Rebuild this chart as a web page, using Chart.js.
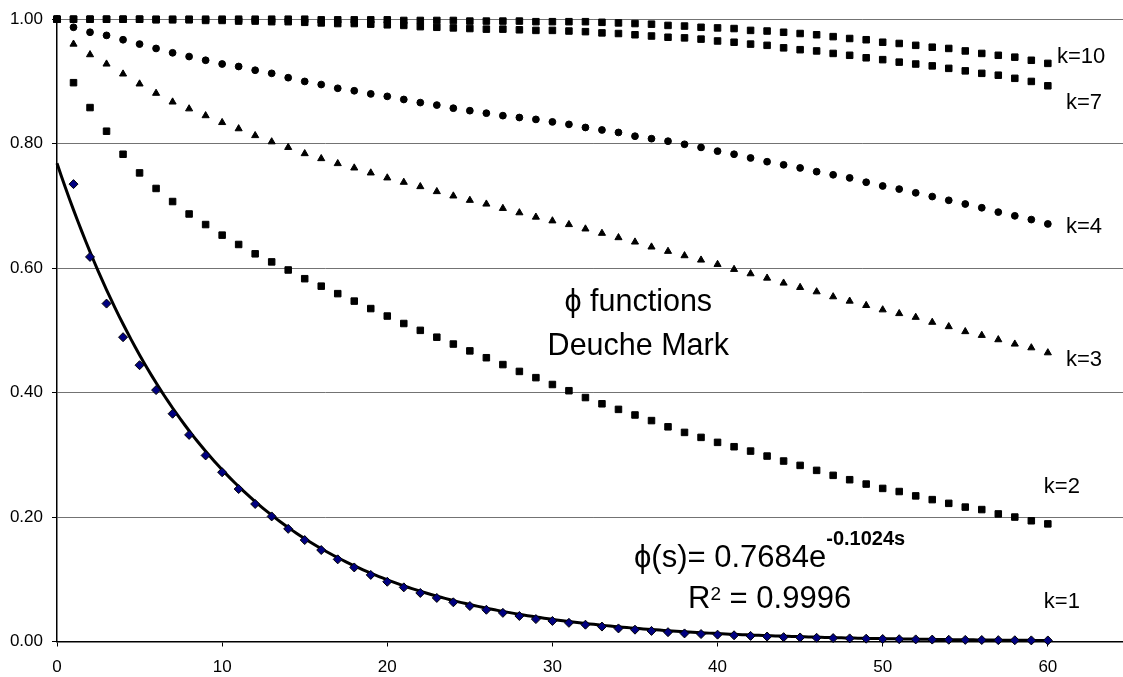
<!DOCTYPE html>
<html>
<head>
<meta charset="utf-8">
<title>phi functions - Deuche Mark</title>
<script src="https://cdn.jsdelivr.net/npm/chart.js@4.4.1/dist/chart.umd.min.js"></script>
<style>
  html, body { margin: 0; padding: 0; background: #fff; overflow: hidden; }
  #wrap { width: 1123px; height: 677px; overflow: hidden; position: relative; }
  canvas { display: block; }
</style>
</head>
<body>
<div id="wrap"><canvas id="chart" width="1136" height="677"></canvas></div>
<script>
// s (time steps)
const sValues = [0,1,2,3,4,5,6,7,8,9,10,11,12,13,14,15,16,17,18,19,20,
  21,22,23,24,25,26,27,28,29,30,31,32,33,34,35,36,37,38,39,40,
  41,42,43,44,45,46,47,48,49,50,51,52,53,54,55,56,57,58,59,60];

// phi_k(s) for each k
const phiK10 = [1.000,1.000,1.000,1.000,1.000,1.000,1.000,1.000,1.000,1.000,1.000,
  1.000,1.000,1.000,1.000,1.000,0.999,0.999,0.999,0.999,0.999,
  0.998,0.998,0.998,0.998,0.997,0.997,0.997,0.997,0.996,0.996,
  0.996,0.996,0.995,0.994,0.993,0.992,0.990,0.989,0.987,0.986,
  0.985,0.982,0.981,0.979,0.977,0.975,0.972,0.969,0.967,0.963,
  0.961,0.958,0.955,0.953,0.949,0.945,0.942,0.939,0.934,0.929];

const phiK7 = [1.000,1.000,1.000,1.000,1.000,1.000,0.999,0.999,0.999,0.998,0.998,
  0.997,0.997,0.996,0.996,0.995,0.994,0.993,0.993,0.992,0.991,
  0.990,0.988,0.987,0.986,0.985,0.984,0.984,0.983,0.982,0.982,
  0.981,0.980,0.978,0.977,0.975,0.973,0.971,0.970,0.968,0.965,
  0.963,0.960,0.958,0.954,0.951,0.949,0.945,0.942,0.938,0.935,
  0.931,0.928,0.925,0.921,0.917,0.913,0.910,0.905,0.900,0.893];

const phiK4 = [1.000,0.987,0.979,0.974,0.967,0.960,0.953,0.946,0.940,0.934,0.928,
  0.924,0.918,0.913,0.906,0.900,0.895,0.889,0.885,0.880,0.876,
  0.871,0.866,0.862,0.857,0.853,0.849,0.845,0.842,0.839,0.835,
  0.831,0.826,0.822,0.818,0.812,0.808,0.804,0.799,0.794,0.788,
  0.783,0.777,0.771,0.766,0.761,0.755,0.750,0.745,0.738,0.732,
  0.727,0.721,0.715,0.709,0.703,0.697,0.690,0.684,0.678,0.671];

const phiK3 = [1.000,0.960,0.943,0.928,0.912,0.896,0.881,0.867,0.856,0.845,0.834,
  0.824,0.813,0.803,0.794,0.784,0.776,0.768,0.761,0.753,0.745,
  0.738,0.731,0.723,0.716,0.709,0.703,0.696,0.689,0.682,0.676,
  0.670,0.663,0.656,0.649,0.642,0.634,0.627,0.620,0.613,0.606,
  0.598,0.591,0.584,0.576,0.569,0.562,0.554,0.547,0.540,0.533,
  0.527,0.521,0.513,0.506,0.498,0.492,0.485,0.478,0.472,0.464];

const phiK2 = [1.000,0.898,0.858,0.820,0.783,0.753,0.728,0.707,0.687,0.670,0.653,
  0.638,0.623,0.610,0.597,0.583,0.571,0.559,0.547,0.535,0.523,
  0.511,0.500,0.489,0.478,0.467,0.456,0.445,0.434,0.424,0.413,
  0.403,0.392,0.382,0.373,0.364,0.355,0.345,0.336,0.328,0.320,
  0.313,0.306,0.298,0.290,0.283,0.275,0.267,0.260,0.253,0.246,
  0.241,0.234,0.228,0.222,0.216,0.212,0.205,0.200,0.194,0.189];

const phiK1 = [null,0.735,0.618,0.543,0.489,0.444,0.404,0.366,0.332,0.299,0.272,
  0.245,0.221,0.201,0.181,0.163,0.147,0.132,0.119,0.107,0.096,
  0.087,0.078,0.070,0.063,0.057,0.051,0.046,0.041,0.036,0.033,
  0.030,0.027,0.024,0.021,0.019,0.017,0.015,0.013,0.012,0.011,
  0.010,0.009,0.008,0.007,0.0065,0.006,0.0055,0.005,0.0045,0.004,
  0.0037,0.0034,0.0031,0.0028,0.0026,0.0024,0.0022,0.0020,0.0018,0.0017];

// exponential fit of the k=1 curve: phi(s) = A * e^(B s)
const trendA = 0.7684;
const trendB = -0.1024;
const trendR2 = 0.9996;

// axis ticks
const xTickStep = 10;
const yTickStep = 0.2;

// text
const curveLabels = ['k=10', 'k=7', 'k=4', 'k=3', 'k=2', 'k=1'];
const titleLines = ['\u03D5 functions', 'Deuche Mark'];

// ---------------------------------------------------------------
const FONT = '"Liberation Sans", Arial, Helvetica, sans-serif';
Chart.defaults.font.family = FONT;
Chart.defaults.color = '#000';

const toPoints = arr => sValues.map((s, i) => ({ x: s, y: arr[i] }));

const trendPoints = [];
for (let s = 0; s <= 60; s += 0.25) {
  trendPoints.push({ x: s, y: trendA * Math.exp(trendB * s) });
}

// where the annotation texts sit (data coordinates of the text anchor / baseline)
const curveLabelPos = [
  { x: 60.55, y: 0.929 },
  { x: 61.1,  y: 0.855 },
  { x: 61.1,  y: 0.657 },
  { x: 61.1,  y: 0.442 },
  { x: 59.76, y: 0.239 },
  { x: 59.76, y: 0.0536 }
];
const titlePos = { x: 35.2, y: [0.5315, 0.4611] };
const equationPos = { x: 43.15, y: [0.1197, 0.0531] };

function drawRuns(ctx, runs, cx, baseY) {
  let total = 0;
  runs.forEach(r => { ctx.font = r.font; r.w = ctx.measureText(r.text).width; total += r.w; });
  let xPos = cx - total / 2;
  runs.forEach(r => {
    ctx.font = r.font;
    ctx.fillText(r.text, xPos, baseY + (r.dy || 0));
    xPos += r.w;
  });
}

const annotationPlugin = {
  id: 'phiAnnotations',
  afterDatasetsDraw(chart) {
    const { ctx } = chart;
    const xs = chart.scales.x, ys = chart.scales.y;
    ctx.save();
    ctx.fillStyle = '#000';
    ctx.textBaseline = 'alphabetic';

    // curve names
    ctx.textAlign = 'left';
    ctx.font = '22px ' + FONT;
    curveLabels.forEach((t, i) => {
      ctx.fillText(t, xs.getPixelForValue(curveLabelPos[i].x), ys.getPixelForValue(curveLabelPos[i].y));
    });

    // centre title
    ctx.textAlign = 'center';
    ctx.font = '30.5px ' + FONT;
    titleLines.forEach((t, i) => {
      ctx.fillText(t, xs.getPixelForValue(titlePos.x), ys.getPixelForValue(titlePos.y[i]));
    });

    // trend-line equation
    ctx.textAlign = 'left';
    const cx = xs.getPixelForValue(equationPos.x);
    drawRuns(ctx, [
      { text: '\u03D5(s)= ' + trendA.toFixed(4) + 'e', font: '31px ' + FONT },
      { text: trendB.toFixed(4) + 's', font: 'bold 20px ' + FONT, dy: -22 }
    ], cx, ys.getPixelForValue(equationPos.y[0]));
    drawRuns(ctx, [
      { text: 'R', font: '31px ' + FONT },
      { text: '2', font: '19px ' + FONT, dy: -8 },
      { text: ' = ' + trendR2.toFixed(4), font: '31px ' + FONT }
    ], cx, ys.getPixelForValue(equationPos.y[1]));
    ctx.restore();
  }
};

const markerBase = { showLine: false, clip: false, borderWidth: 1 };

new Chart(document.getElementById('chart'), {
  type: 'scatter',
  data: {
    datasets: [
      Object.assign({}, markerBase, { label: 'k=10', data: toPoints(phiK10), pointStyle: 'rect', pointRadius: 4.6,
        backgroundColor: '#000', borderColor: '#000' }),
      Object.assign({}, markerBase, { label: 'k=7', data: toPoints(phiK7), pointStyle: 'rect', pointRadius: 4.6,
        backgroundColor: '#000', borderColor: '#000' }),
      Object.assign({}, markerBase, { label: 'k=4', data: toPoints(phiK4), pointStyle: 'circle', pointRadius: 3.4,
        backgroundColor: '#000', borderColor: '#000' }),
      Object.assign({}, markerBase, { label: 'k=3', data: toPoints(phiK3), pointStyle: 'triangle', pointRadius: 4.1,
        backgroundColor: '#000', borderColor: '#000' }),
      Object.assign({}, markerBase, { label: 'k=2', data: toPoints(phiK2), pointStyle: 'rect', pointRadius: 4.6,
        backgroundColor: '#000', borderColor: '#000' }),
      Object.assign({}, markerBase, { label: 'k=1', data: toPoints(phiK1), pointStyle: 'rectRot', pointRadius: 4.5,
        backgroundColor: '#000080', borderColor: '#000' }),
      { label: 'Expon. (k=1)', data: trendPoints, showLine: true, pointRadius: 0, borderColor: '#000',
        borderWidth: 3, tension: 0, clip: false }
    ]
  },
  options: {
    responsive: false,
    animation: false,
    events: [],
    layout: { padding: { top: 16.5, right: 0, bottom: 0, left: 0 } },
    plugins: { legend: { display: false }, tooltip: { enabled: false } },
    scales: {
      x: {
        type: 'linear', min: 0, max: 65, position: 'bottom',
        ticks: { stepSize: xTickStep, includeBounds: false, font: { size: 17 }, color: '#000', padding: 11, maxRotation: 0 },
        grid: { drawOnChartArea: false, drawTicks: true, tickLength: 5, tickColor: '#000', tickWidth: 1 },
        border: { display: true, color: '#000', width: 1.5 },
        afterFit: s => { s.height = 35.5; }
      },
      y: {
        type: 'linear', min: 0, max: 1,
        ticks: { stepSize: yTickStep, font: { size: 17 }, color: '#000', padding: 9,
          callback: v => Number(v).toFixed(2) },
        grid: { color: '#737373', lineWidth: 1, drawTicks: true, tickLength: 5, tickColor: '#000' },
        border: { display: true, color: '#000', width: 1.5 },
        afterFit: s => { s.width = 57; }
      }
    }
  },
  plugins: [annotationPlugin]
});
</script>
</body>
</html>
